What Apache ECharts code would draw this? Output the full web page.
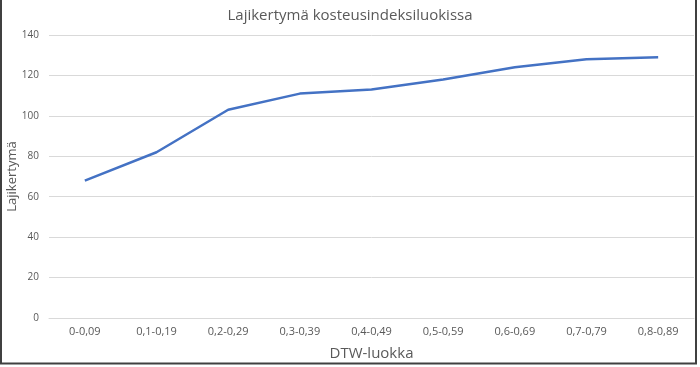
<!DOCTYPE html>
<html>
<head>
<meta charset="utf-8">
<script src="https://cdn.jsdelivr.net/npm/echarts@6/dist/echarts.min.js"></script>
<style>
html,body{margin:0;padding:0;background:#fff;}
#chart{width:700px;height:367px;}
</style>
</head>
<body>
<div id="chart"></div>
<script>
const titleText = 'Lajikertymä kosteusindeksiluokissa';
const xName = 'DTW-luokka';
const yName = 'Lajikertymä';
const categories = ['0-0,09','0,1-0,19','0,2-0,29','0,3-0,39','0,4-0,49','0,5-0,59','0,6-0,69','0,7-0,79','0,8-0,89'];
const values = [68, 82, 103, 111, 113, 118, 124, 128, 129];
const yTicks = [0, 20, 40, 60, 80, 100, 120, 140];

const font = '"Liberation Sans Narrow", "Open Sans", sans-serif';
const chart = echarts.init(document.getElementById('chart'), null, {renderer: 'canvas'});
chart.setOption({
  animation: false,
  backgroundColor: '#ffffff',
  title: {
    text: titleText, left: 'center', top: 3,
    textStyle: {fontFamily: font, fontSize: 15, fontWeight: 'normal', color: '#595959'}
  },
  grid: {left: 49, right: 6, top: 35, bottom: 49, containLabel: false, outerBoundsMode: 'none'},
  xAxis: {
    type: 'category', data: categories, boundaryGap: true,
    name: xName, nameLocation: 'middle', nameGap: 28, nameMoveOverlap: false,
    nameTextStyle: {fontFamily: font, fontSize: 15, color: '#595959'},
    axisLine: {show: true, lineStyle: {color: '#d9d9d9', width: 1}},
    axisTick: {show: false},
    axisLabel: {fontFamily: font, fontSize: 11, color: '#595959', margin: 8, interval: 0}
  },
  yAxis: {
    type: 'value', min: yTicks[0], max: yTicks[yTicks.length-1], interval: 20,
    name: yName, nameLocation: 'middle', nameGap: 30, nameMoveOverlap: false,
    nameTextStyle: {fontFamily: font, fontSize: 13, color: '#595959'},
    axisLine: {show: false}, axisTick: {show: false},
    axisLabel: {fontFamily: font, fontSize: 10, color: '#595959', margin: 10},
    splitLine: {lineStyle: {color: '#d9d9d9', width: 1}}
  },
  series: [{
    type: 'line', data: values, symbol: 'none', smooth: false,
    lineStyle: {color: '#4472C4', width: 2.5}
  }],
  graphic: [
    {type: 'line', shape: {x1: 1, y1: 0, x2: 1, y2: 364}, style: {stroke: '#404040', lineWidth: 2}},
    {type: 'line', shape: {x1: 696, y1: 0, x2: 696, y2: 364}, style: {stroke: '#404040', lineWidth: 2}},
    {type: 'line', shape: {x1: 0, y1: 363.5, x2: 697, y2: 363.5}, style: {stroke: '#404040', lineWidth: 2}}
  ]
});
</script>
</body>
</html>
